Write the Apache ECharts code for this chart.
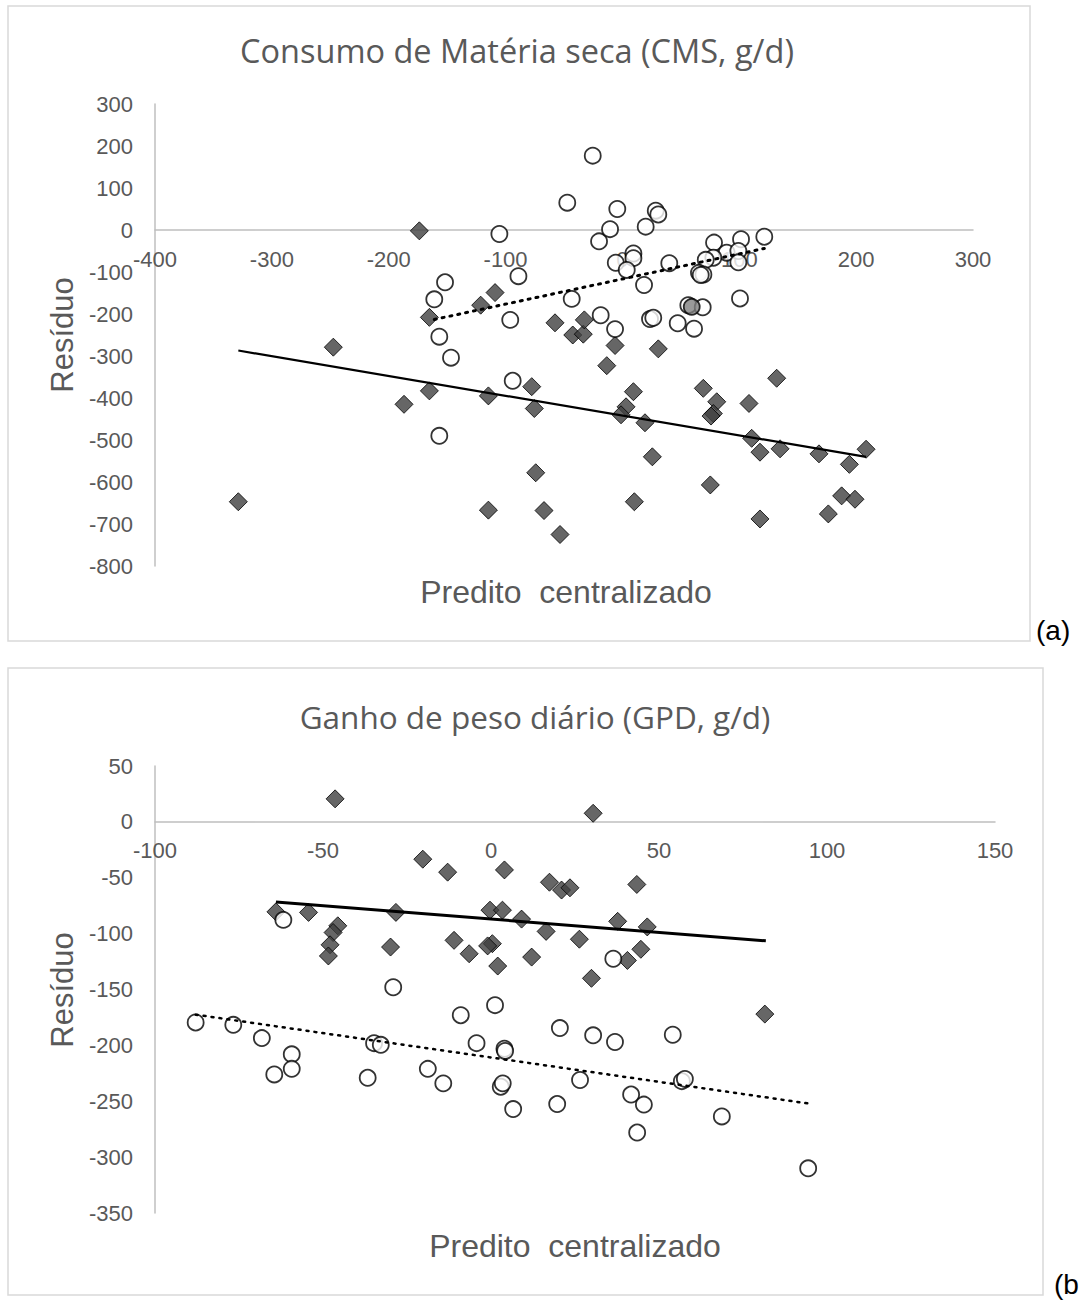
<!DOCTYPE html>
<html>
<head>
<meta charset="utf-8">
<script src="https://cdn.jsdelivr.net/npm/echarts@6/dist/echarts.min.js"></script>
<style>html,body{margin:0;padding:0;background:#fff;}#c{width:1082px;height:1304px;}</style>
</head>
<body>
<div id="c"></div>
<script>
const titleA = 'Consumo de Matéria seca (CMS, g/d)';
const titleB = 'Ganho de peso diário (GPD, g/d)';
const xTitle = 'Predito  centralizado';
const yTitle = 'Resíduo';

// ---------- Panel (a): Consumo de Matéria seca ----------
const aDiamonds = [
  [-173.8,-2],[-109,-149],[-121.3,-179],[-165.2,-208],[-247.4,-279],[-57.7,-221],
  [-42.5,-250],[-33.5,-248],[-32.6,-214],[-6.3,-275],[30.7,-283],[-13.4,-323],
  [132,-353],[-328.7,-647],[-165.2,-383],[-186.9,-415],[-114.7,-395],[-77.6,-373],
  [-75.4,-425],[-74.2,-578],[-114.7,-667],[-67.1,-668],[-53.4,-725],[9.4,-385],
  [3.1,-421],[-1.2,-440],[19.3,-459],[25.6,-540],[10.2,-647],[69.2,-377],
  [80.7,-409],[77.8,-437],[75.8,-443],[108.3,-413],[110.6,-496],[117.7,-529],
  [134.9,-521],[168.2,-533],[194.2,-558],[208.5,-522],[187.6,-633],[199,-641],
  [176.2,-676],[117.7,-688],[75.2,-607]
];
const aCircles = [
  [-25.4,177],[-47.2,65],[-105.3,-9.5],[-20,-27],[-151.8,-124.5],[-89,-110],
  [-161,-165],[-43.4,-164],[-96,-214],[-156.7,-254],[-146.7,-304],[-93.9,-359],
  [-156.7,-490],[-4.4,50],[28.5,46],[30.7,37],[-10.6,2],[19.9,8],[121.4,-16],
  [101.5,-22],[78.4,-30],[89.2,-54],[99.2,-50],[99.2,-77],[77.8,-66],[71.3,-71],
  [9.4,-56],[9.4,-67],[-5.7,-78],[3.7,-95],[40.1,-79],[65.5,-102],[69.3,-106],
  [67,-107],[18.5,-131],[100.6,-163],[56.4,-179],[68.7,-184],[-18.6,-203],
  [23.6,-212],[26.4,-209],[-6.3,-236],[47.3,-222],[61.3,-235]
];
const aGray = [[59.3,-183]];
const aTrendSolid = [[-328.7,-287],[208.5,-540]];
const aTrendDotted = [[-161,-213],[121.4,-44]];
const aXTicks = [-400,300,100];   // min, max, interval
const aYTicks = [-800,300,100];

// ---------- Panel (b): Ganho de peso diário ----------
const bDiamonds = [
  [-46.4,20.6],[30.4,7.7],[-20.3,-33.4],[-12.9,-45],[4,-43],[17.4,-54],[21,-61],
  [23.5,-59],[-64,-80.5],[-54.3,-81],[-28.3,-81],[-0.3,-79],[3.4,-79],[9.1,-87],
  [16.4,-98],[26.3,-105],[-45.6,-93],[-47,-99],[-47.9,-110],[-48.4,-120],
  [-29.9,-112],[-11,-106],[-6.5,-118],[0.4,-109],[-1,-111],[2,-129],[12.1,-121],
  [29.9,-140],[43.4,-56],[37.7,-89],[46.5,-94],[44.6,-114],[40.6,-124],[81.5,-172]
];
const bCircles = [
  [-61.8,-87.7],[-29.1,-148],[1.2,-164],[-9,-173],[20.5,-184.5],[30.4,-191],
  [-87.9,-179.5],[-76.7,-181.6],[-68.2,-193.5],[-59.3,-208],[-59.3,-221],
  [-64.5,-226],[-34.8,-198],[-32.8,-199.5],[-36.7,-229],[-18.8,-221],[-14.2,-234],
  [-4.3,-198],[4,-203],[4.2,-205],[26.5,-231],[2.9,-237],[3.5,-234],[6.6,-257],
  [19.7,-252.5],[36.9,-197],[54.1,-190.5],[41.7,-244],[45.5,-253],[43.5,-278],
  [56.8,-232],[57.7,-230],[68.7,-263.6],[94.4,-310],[36.4,-122.5]
];
const bTrendSolid = [[-64,-71.8],[81.8,-106.4]];
const bTrendDotted = [[-87.9,-172.5],[94.4,-252]];
const bXTicks = [-100,150,50];
const bYTicks = [-350,50,50];

const GRAY = '#595959';
const AXIS = '#bfbfbf';
const TICK_FONT = 'Liberation Sans, Arial, sans-serif';

const grids = [
  { left: 155, top: 104, width: 818, height: 462 },
  { left: 155, top: 766, width: 840, height: 447 }
];

// x axis crosses the y axis at value 0: shift it up from the grid bottom
function zeroOffset(grid, yt) {
  return -grid.height * (0 - yt[0]) / (yt[1] - yt[0]);
}

function xAxisCfg(idx, t, yt) {
  return {
    gridIndex: idx, type: 'value', min: t[0], max: t[1], interval: t[2],
    position: 'bottom', offset: zeroOffset(grids[idx], yt),
    axisLine: { show: true, onZero: false, lineStyle: { color: AXIS, width: 1.5 } },
    axisTick: { show: false }, splitLine: { show: false },
    axisLabel: { color: GRAY, fontSize: 22, fontFamily: TICK_FONT, margin: 18 }
  };
}
function yAxisCfg(idx, t) {
  return {
    gridIndex: idx, type: 'value', min: t[0], max: t[1], interval: t[2],
    axisLine: { show: true, onZero: false, lineStyle: { color: AXIS, width: 1.5 } },
    axisTick: { show: false }, splitLine: { show: false },
    axisLabel: { color: GRAY, fontSize: 22, fontFamily: TICK_FONT, margin: 22 }
  };
}
function diamondSeries(idx, data) {
  return { type: 'scatter', xAxisIndex: idx, yAxisIndex: idx, data: data,
    symbol: 'diamond', symbolSize: [18, 18], z: 2,
    itemStyle: { color: '#404040', borderColor: '#000', borderWidth: 1 } };
}
function circleSeries(idx, data, fill, z) {
  return { type: 'scatter', xAxisIndex: idx, yAxisIndex: idx, data: data,
    symbol: 'circle', symbolSize: 16, z: z,
    itemStyle: { color: fill, borderColor: '#000', borderWidth: 1.8 } };
}
function lineSeries(idx, data, dotted, w) {
  return { type: 'line', xAxisIndex: idx, yAxisIndex: idx, data: data,
    showSymbol: false, symbol: 'none', z: 5, silent: true,
    lineStyle: { color: '#000', width: w, type: dotted ? [2, 6] : 'solid', cap: dotted ? 'round' : 'butt' } };
}

const chart = echarts.init(document.getElementById('c'), null, { renderer: 'svg' });
chart.setOption({
  animation: false,
  backgroundColor: '#fff',
  grid: grids,
  xAxis: [xAxisCfg(0, aXTicks, aYTicks), xAxisCfg(1, bXTicks, bYTicks)],
  yAxis: [yAxisCfg(0, aYTicks), yAxisCfg(1, bYTicks)],
  series: [
    diamondSeries(0, aDiamonds),
    circleSeries(0, aCircles, '#fff', 3),
    circleSeries(0, aGray, '#808080', 4),
    lineSeries(0, aTrendSolid, false, 2.2),
    lineSeries(0, aTrendDotted, true, 3),
    diamondSeries(1, bDiamonds),
    circleSeries(1, bCircles, '#fff', 3),
    lineSeries(1, bTrendSolid, false, 3),
    lineSeries(1, bTrendDotted, true, 2.5)
  ],
  graphic: [
    { type: 'rect', shape: { x: 8, y: 6, width: 1022, height: 635 }, z: -1,
      style: { fill: 'none', stroke: '#d9d9d9', lineWidth: 1.5 } },
    { type: 'rect', shape: { x: 8, y: 668, width: 1035, height: 627 }, z: -1,
      style: { fill: 'none', stroke: '#d9d9d9', lineWidth: 1.5 } },
    { type: 'text', x: 517, y: 50, style: { text: titleA, fill: GRAY, font: '32.5px "Open Sans", sans-serif', textAlign: 'center', textVerticalAlign: 'middle' } },
    { type: 'text', x: 535, y: 716, style: { text: titleB, fill: GRAY, font: '31.5px "Open Sans", sans-serif', textAlign: 'center', textVerticalAlign: 'middle' } },
    { type: 'text', x: 566, y: 592, style: { text: xTitle, fill: GRAY, font: '32px "Liberation Sans", Arial, sans-serif', textAlign: 'center', textVerticalAlign: 'middle' } },
    { type: 'text', x: 575, y: 1246, style: { text: xTitle, fill: GRAY, font: '32px "Liberation Sans", Arial, sans-serif', textAlign: 'center', textVerticalAlign: 'middle' } },
    { type: 'text', x: 62, y: 335, rotation: Math.PI / 2, style: { text: yTitle, fill: GRAY, font: '31px "Liberation Sans", Arial, sans-serif', textAlign: 'center', textVerticalAlign: 'middle' } },
    { type: 'text', x: 62, y: 990, rotation: Math.PI / 2, style: { text: yTitle, fill: GRAY, font: '31px "Liberation Sans", Arial, sans-serif', textAlign: 'center', textVerticalAlign: 'middle' } },
    { type: 'text', x: 1036, y: 630, style: { text: '(a)', fill: '#000', font: '28px "Liberation Sans", Arial, sans-serif', textAlign: 'left', textVerticalAlign: 'middle' } },
    { type: 'text', x: 1054, y: 1284, style: { text: '(b', fill: '#000', font: '28px "Liberation Sans", Arial, sans-serif', textAlign: 'left', textVerticalAlign: 'middle' } }
  ]
});
</script>
</body>
</html>
